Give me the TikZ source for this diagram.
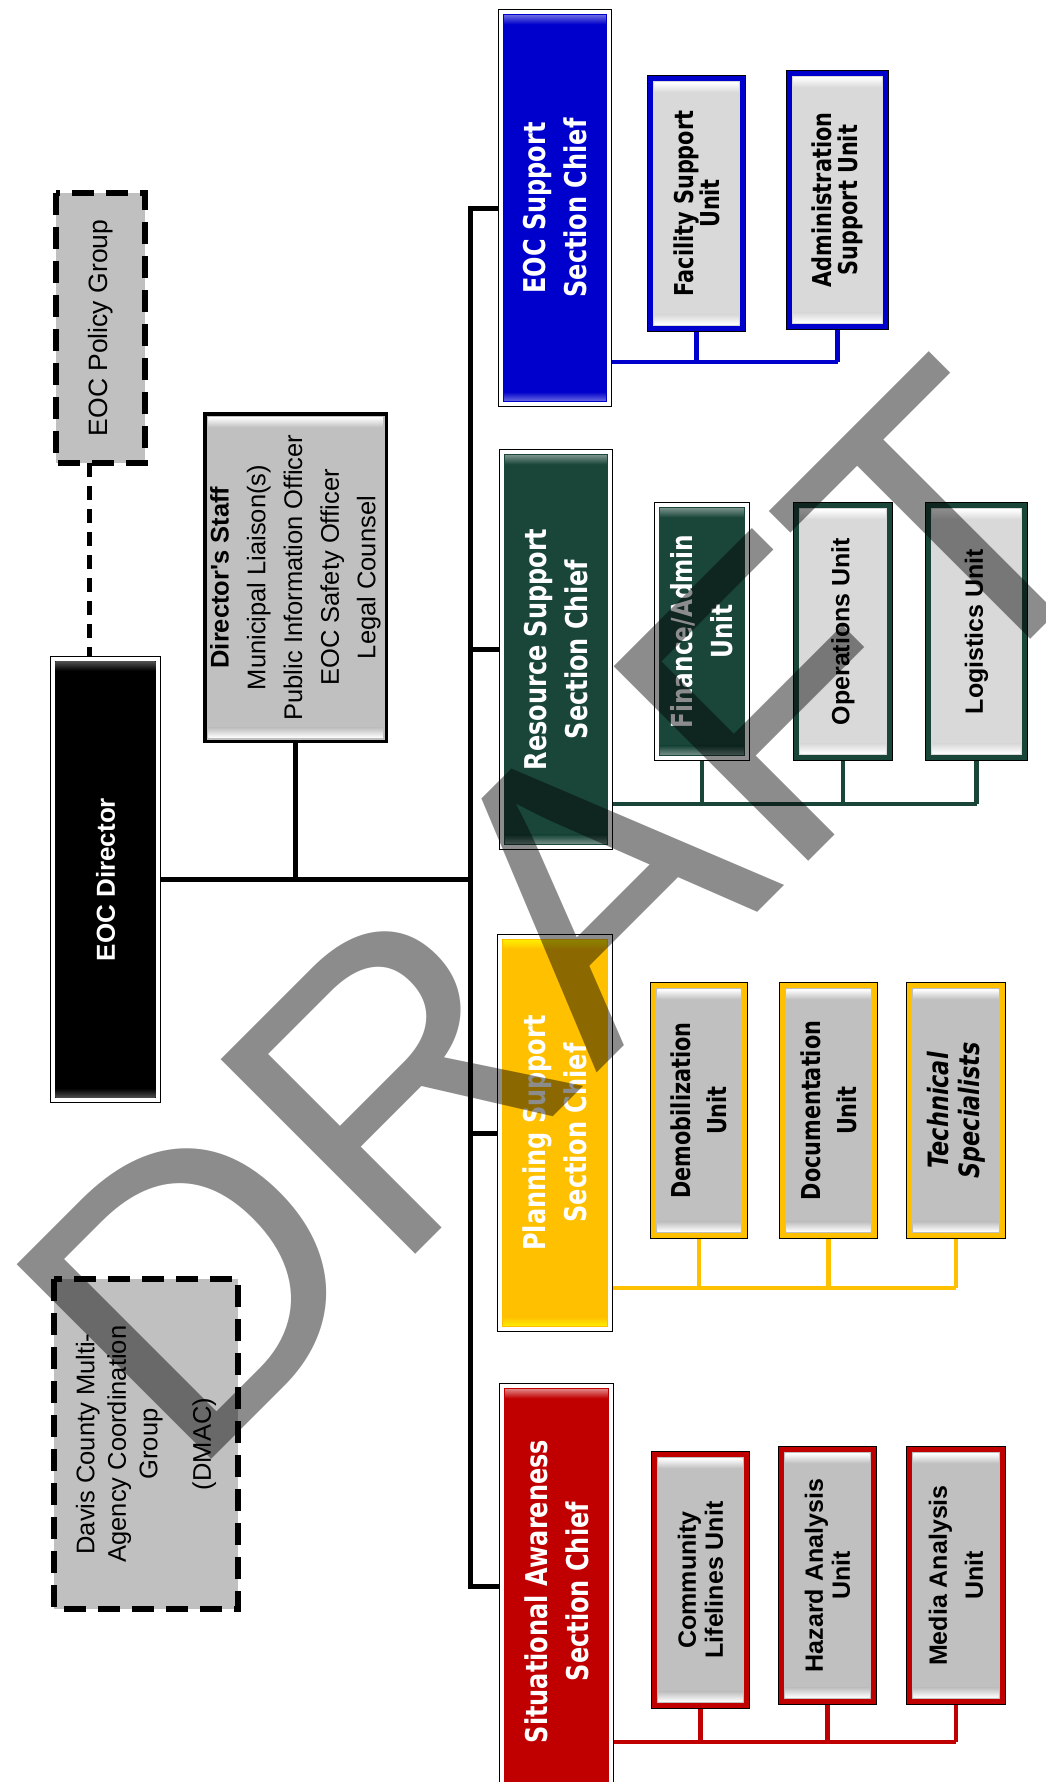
\documentclass[tikz,border=0pt]{standalone}
\usepackage{fontspec}
\setmainfont{Liberation Sans}
\newfontfamily\arialf{Liberation Sans}
\newfontfamily\tahf[FakeStretch=0.8]{DejaVu Sans}
\usetikzlibrary{calc,backgrounds}

\definecolor{secblue}{RGB}{0,0,204}
\definecolor{secgreen}{RGB}{26,70,58}
\definecolor{secgold}{RGB}{255,192,0}
\definecolor{secred}{RGB}{192,0,0}
\definecolor{unitlight}{RGB}{217,217,217}
\definecolor{unitgray}{RGB}{192,192,192}
\definecolor{boxgray}{RGB}{192,192,192}

% highlight strips along the top and bottom inner edges of a rotated box
\newcommand\boxbevel[5]{%
  \shade[top color=#4, bottom color=#5] ($(#1.north east)+(#2,#2)$) rectangle ($(#1.south east)+(-#2,#2+#3)$);
  \shade[top color=#5, bottom color=#4] ($(#1.north west)+(#2,-#2-#3)$) rectangle ($(#1.south west)+(-#2,-#2)$);
}

\tikzset{
  every node/.style={outer sep=0pt, inner sep=0pt},
  vbox/.style 2 args={rotate=90, minimum width=#1, minimum height=#2},
  unitbox/.style 2 args={preaction={draw=black, line width=7.6pt}, draw=#1, line width=5pt, fill=#2, align=center},
  chiefbox/.style={preaction={draw=black, line width=6.4pt}, draw=white, line width=4pt, fill=#1, text=white, align=center},
  dashbox/.style={draw=black, line width=6pt, dash pattern=on 22pt off 12pt, fill=boxgray, align=center},
  chieffont/.style={font=\tahf\bfseries\fontsize{30}{41}\selectfont},
  mainline/.style={draw=black, line width=5pt},
  dashlink/.style={draw=black, line width=5pt, dash pattern=on 14pt off 9pt},
  bus/.style={draw=#1, line width=4.5pt},
}

\begin{document}
\begin{tikzpicture}[x=1pt, y=-1pt]
\useasboundingbox (0,0) rectangle (1046,1782);

% ---- command staff ----
\node[dashbox, vbox={270}{89}, font=\arialf\fontsize{26.5}{30}\selectfont] (pol) at (100.5,328) {EOC Policy Group};
\node[chiefbox=black, vbox={440.6}{104.6}, font=\arialf\bfseries\fontsize{26}{30}\selectfont] (dir) at (105.5,879.5) {EOC Director};
\node[draw=black, line width=3.5pt, fill=boxgray, align=center, vbox={327.5}{181.5}, font=\arialf\fontsize{25.5}{36.7}\selectfont] (stf) at (295.5,577.5)
  {\textbf{Director's Staff}\\Municipal Liaison(s)\\Public Information Officer\\EOC Safety Officer\\Legal Counsel};
\node[dashbox, vbox={330}{184}, font=\arialf\fontsize{25.5}{31.5}\selectfont] (dmac) at (146,1444)
  {Davis County Multi-\\Agency Coordination\\Group\\[22pt](DMAC)};

% ---- EOC support section ----
\node[chiefbox=secblue, vbox={391.6}{107.6}, chieffont] (esc) at (555,208) {EOC Support\\Section Chief};
\node[unitbox={secblue}{unitlight}, vbox={249.4}{91.4}, font=\tahf\bfseries\fontsize{26}{26}\selectfont] (fsu) at (696.5,203.5) {Facility Support\\Unit};
\node[unitbox={secblue}{unitlight}, vbox={252.4}{95.4}, font=\tahf\bfseries\fontsize{26}{26}\selectfont] (asu) at (837.5,200) {Administration\\Support Unit};

% ---- resource support section ----
\node[chiefbox=secgreen, vbox={394.6}{107.6}, chieffont] (rsc) at (556,649.5) {Resource Support\\Section Chief};
\node[chiefbox=secgreen, vbox={252.6}{89.6}, font=\tahf\bfseries\fontsize{29}{40}\selectfont] (fau) at (702,631.5) {Finance/Admin\\Unit};
\node[unitbox={secgreen}{unitlight}, vbox={251.4}{92.4}, font=\arialf\bfseries\fontsize{25}{28}\selectfont] (opu) at (843,631.5) {Operations Unit};
\node[unitbox={secgreen}{unitlight}, vbox={251.4}{95.4}, font=\arialf\bfseries\fontsize{25}{28}\selectfont] (lgu) at (976.5,631.5) {Logistics Unit};

% ---- planning support section ----
\node[chiefbox=secgold, vbox={391.6}{109.6}, chieffont] (psc) at (555,1133) {Planning Support\\Section Chief};
\node[unitbox={secgold}{unitgray}, vbox={249.4}{90.4}, font=\tahf\bfseries\fontsize{26}{36}\selectfont] (dmu) at (699,1110.5) {Demobilization\\Unit};
\node[unitbox={secgold}{unitgray}, vbox={249.4}{91.4}, font=\tahf\bfseries\fontsize{26}{36}\selectfont] (dcu) at (828.5,1110.5) {Documentation\\Unit};
\node[unitbox={secgold}{unitgray}, vbox={249.4}{92.4}, font=\tahf\bfseries\itshape\fontsize{28}{31}\selectfont] (tsp) at (956,1110.5) {Technical\\Specialists};

% ---- situational awareness section ----
\node[chiefbox=secred, vbox={410.6}{108.6}, chieffont] (sac) at (556.5,1591.5) {Situational Awareness\\Section Chief};
\node[unitbox={secred}{unitgray}, vbox={250.4}{91.4}, font=\arialf\bfseries\fontsize{25}{27}\selectfont] (clu) at (700.5,1580) {Community\\Lifelines Unit};
\node[unitbox={secred}{unitgray}, vbox={251.4}{91.4}, font=\arialf\bfseries\fontsize{25}{27}\selectfont] (hau) at (827.5,1575.5) {Hazard Analysis\\Unit};
\node[unitbox={secred}{unitgray}, vbox={251.4}{92.4}, font=\arialf\bfseries\fontsize{25}{36}\selectfont] (mau) at (956,1575.5) {Media Analysis\\Unit};

% ---- bevel highlights ----
\boxbevel{dir}{2.5}{9}{black!70}{black}
\boxbevel{stf}{3.5}{10}{white}{boxgray}
\foreach \u in {fsu,asu,opu,lgu}{\boxbevel{\u}{3.5}{10}{white}{unitlight}}
\foreach \u in {dmu,dcu,tsp,clu,hau,mau}{\boxbevel{\u}{3.5}{10}{white}{unitgray}}
\boxbevel{esc}{3}{9}{secblue!60!white}{secblue}
\boxbevel{rsc}{3}{9}{secgreen!60!white}{secgreen}
\boxbevel{fau}{3}{9}{secgreen!60!white}{secgreen}
\boxbevel{psc}{3}{9}{yellow!70!secgold}{secgold}
\boxbevel{sac}{3}{9}{secred!50!white}{secred}

% ---- connectors ----
\coordinate (mbx) at (470,0);
\coordinate (dashx) at (89,0);
\coordinate (sacy) at (0,1586);
\coordinate (bluey) at (0,362);
\coordinate (greeny) at (0,804);
\coordinate (goldy) at (0,1288);
\coordinate (redy) at (0,1742);
\begin{pgfonlayer}{background}
  \fill[white] (0,0) rectangle (1046,1782);
  \draw[dashlink] (pol.west -| dashx) -- (dir.east -| dashx);
  \draw[mainline] (dir.south) -- (dir.south -| mbx);
  \draw[mainline, line width=4.5pt] (stf.west) -- (stf.west |- dir.south);
  \draw[mainline] (esc.north) -- (esc.north -| mbx) -- (sacy -| mbx) -- (sac.north |- sacy);
  \draw[mainline] (rsc.north) -- (rsc.north -| mbx);
  \draw[mainline] (psc.north) -- (psc.north -| mbx);
  \draw[bus=secblue] (esc.south |- bluey) -- (asu.west |- bluey);
  \foreach \u in {fsu,asu}{\draw[bus=secblue] (\u.west) -- (\u.west |- bluey);}
  \draw[bus=secgreen] (rsc.south |- greeny) -- (lgu.west |- greeny);
  \foreach \u in {fau,opu,lgu}{\draw[bus=secgreen] (\u.west) -- (\u.west |- greeny);}
  \draw[bus=secgold] (psc.south |- goldy) -- (tsp.west |- goldy);
  \foreach \u in {dmu,dcu,tsp}{\draw[bus=secgold] (\u.west) -- (\u.west |- goldy);}
  \draw[bus=secred] (sac.south |- redy) -- (mau.west |- redy);
  \foreach \u in {clu,hau,mau}{\draw[bus=secred] (\u.west) -- (\u.west |- redy);}
\end{pgfonlayer}

% ---- watermark ----
\node[rotate=45, anchor=base west, font=\arialf\fontsize{400}{400}\selectfont, text=black, text opacity=0.45] (draftmark) at (188,1482) {DRAFT};
\end{tikzpicture}
\end{document}
